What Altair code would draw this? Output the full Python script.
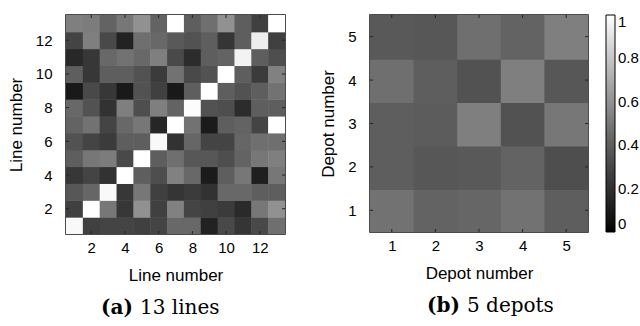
import altair as alt
import pandas as pd

# (a) 13 lines: rows listed from line 1 (bottom) to line 13 (top), columns 1..13
line_ids = list(range(1, 14))
line_rows = [
    [0.98, 0.27, 0.29, 0.29, 0.27, 0.29, 0.44, 0.44, 0.13, 0.31, 0.22, 0.31, 0.47],
    [0.27, 1.00, 0.50, 0.23, 0.60, 0.27, 0.54, 0.29, 0.27, 0.25, 0.17, 0.50, 0.60],
    [0.37, 0.43, 0.98, 0.23, 0.50, 0.27, 0.22, 0.25, 0.21, 0.44, 0.44, 0.40, 0.40],
    [0.23, 0.29, 0.21, 1.00, 0.40, 0.33, 0.54, 0.44, 0.10, 0.40, 0.50, 0.12, 0.50],
    [0.40, 0.50, 0.52, 0.31, 1.00, 0.40, 0.47, 0.37, 0.37, 0.33, 0.42, 0.50, 0.53],
    [0.35, 0.29, 0.25, 0.40, 0.40, 0.98, 0.21, 0.43, 0.29, 0.29, 0.43, 0.47, 0.47],
    [0.42, 0.48, 0.29, 0.44, 0.50, 0.15, 1.00, 0.48, 0.10, 0.40, 0.42, 0.29, 1.00],
    [0.44, 0.35, 0.21, 0.53, 0.33, 0.53, 0.42, 0.99, 0.35, 0.33, 0.18, 0.40, 0.40],
    [0.09, 0.31, 0.23, 0.09, 0.35, 0.27, 0.09, 0.40, 1.00, 0.40, 0.35, 0.40, 0.48],
    [0.40, 0.23, 0.40, 0.40, 0.35, 0.25, 0.48, 0.31, 0.35, 1.00, 0.40, 0.25, 0.54],
    [0.16, 0.23, 0.44, 0.48, 0.44, 0.53, 0.31, 0.18, 0.40, 0.42, 0.96, 0.40, 0.33],
    [0.29, 0.53, 0.31, 0.13, 0.47, 0.44, 0.38, 0.35, 0.40, 0.22, 0.40, 0.94, 0.27],
    [0.53, 0.52, 0.42, 0.50, 0.60, 0.42, 1.00, 0.40, 0.47, 0.60, 0.40, 0.27, 1.00],
]
line_ticks = [2, 4, 6, 8, 10, 12]

# (b) 5 depots: rows from depot 1 (bottom) to depot 5 (top)
depot_ids = [1, 2, 3, 4, 5]
depot_rows = [
    [0.48, 0.42, 0.43, 0.48, 0.40],
    [0.40, 0.37, 0.38, 0.42, 0.33],
    [0.40, 0.39, 0.53, 0.35, 0.50],
    [0.47, 0.40, 0.35, 0.53, 0.37],
    [0.38, 0.37, 0.47, 0.42, 0.53],
]
colorbar_ticks = [0, 0.2, 0.4, 0.6, 0.8, 1]

caption_a = ["(a)", "13 lines"]
caption_b = ["(b)", "5 depots"]

SANS = "Liberation Sans"
SERIF = "DejaVu Serif"


def to_df(ids, rows):
    recs = []
    for i, r in zip(ids, rows):
        for j, v in zip(ids, r):
            recs.append({"col": j, "row": i, "v": v})
    return pd.DataFrame(recs)


gray = alt.Scale(domain=[0, 1], range=["#000000", "#ffffff"])


def ax(ticks, title, lp, tp):
    return alt.Axis(
        values=ticks, title=title, labelFont=SANS, titleFont=SANS,
        labelFontSize=15, titleFontSize=17, labelColor="black", titleColor="black",
        titleFontWeight="normal", domain=False, ticks=False, grid=False,
        labelPadding=lp, titlePadding=tp,
    )


def heat(df, n, ticks, title, W, H, legend):
    dom = [0.5, n + 0.5]
    xs = alt.Scale(domain=dom, nice=False, zero=False)
    ys = alt.Scale(domain=dom, nice=False, zero=False)
    xax = ax(ticks, title, 6, 12)
    yax = ax(ticks, title, 14, 10)
    base = alt.Chart(df).transform_calculate(
        x0="datum.col - 0.5", x1="datum.col + 0.53",
        y0="datum.row - 0.53", y1="datum.row + 0.5",
    )
    rect = base.mark_rect(strokeWidth=0, clip=True).encode(
        x=alt.X("x0:Q", scale=xs, axis=xax),
        x2="x1:Q",
        y=alt.Y("y0:Q", scale=ys, axis=yax),
        y2="y1:Q",
        color=alt.Color("v:Q", scale=gray, legend=legend),
    )
    tdf = pd.DataFrame({"x0": ticks, "y0": ticks})
    tk = alt.Chart(tdf).mark_rule(color="#222222", strokeWidth=1)
    bottom = tk.encode(x=alt.X("x0:Q", scale=xs, axis=xax), y=alt.value(H), y2=alt.value(H - 3))
    top = tk.encode(x=alt.X("x0:Q", scale=xs, axis=xax), y=alt.value(0), y2=alt.value(3))
    lft = tk.encode(y=alt.Y("y0:Q", scale=ys, axis=yax), x=alt.value(0), x2=alt.value(3))
    rgt = tk.encode(y=alt.Y("y0:Q", scale=ys, axis=yax), x=alt.value(W - 3), x2=alt.value(W))
    return alt.layer(rect, bottom, top, lft, rgt).properties(width=W, height=H)


def caption(parts, xb, xr, y):
    c1 = alt.Chart(pd.DataFrame({"t": [parts[0]]})).mark_text(
        font=SERIF, fontSize=20, fontWeight="bold", align="left", baseline="middle"
    ).encode(x=alt.value(xb), y=alt.value(y), text="t:N")
    c2 = alt.Chart(pd.DataFrame({"t": [parts[1]]})).mark_text(
        font=SERIF, fontSize=20, align="left", baseline="middle"
    ).encode(x=alt.value(xr), y=alt.value(y), text="t:N")
    return c1 + c2


left = alt.layer(
    heat(to_df(line_ids, line_rows), 13, line_ticks, "Line number", 219, 219, None),
    caption(caption_a, 35, 74, 293),
)

legend = alt.Legend(
    type="gradient", title=None, values=colorbar_ticks, format="~g",
    gradientLength=217, gradientThickness=9, direction="vertical", offset=18,
    gradientStrokeColor="black", gradientStrokeWidth=1, labelOffset=3,
    labelFont=SANS, labelFontSize=15, labelColor="black",
)
right = alt.layer(
    heat(to_df(depot_ids, depot_rows), 5, depot_ids, "Depot number", 218, 217, legend),
    caption(caption_b, 57, 97, 291),
)

chart = alt.hconcat(left, right, spacing=31).resolve_scale(
    color="independent"
).properties(
    padding={"left": 6, "top": 13, "right": 0, "bottom": 0},
    background="white",
).configure_view(
    stroke="#111111", strokeWidth=1.5
)

chart.save("out.html", embed_options={"renderer": "svg", "actions": False})
